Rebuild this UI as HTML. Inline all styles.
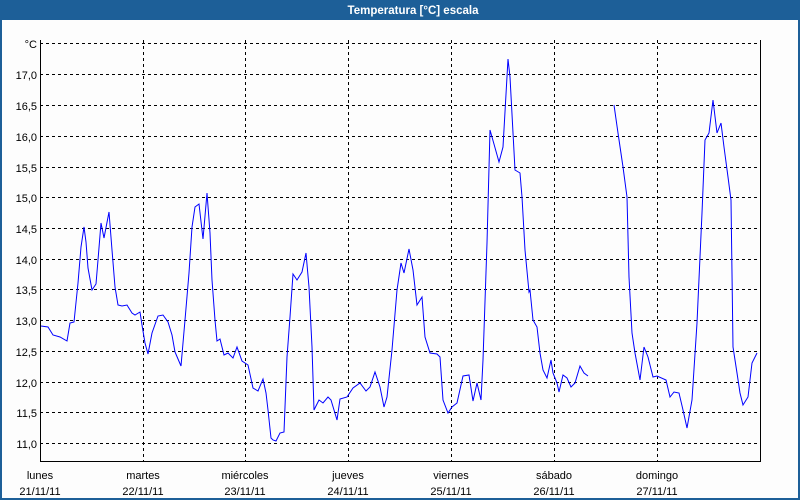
<!DOCTYPE html>
<html><head><meta charset="utf-8"><style>
body{margin:0;background:#fff}
svg{display:block}
text{font-family:"Liberation Sans",sans-serif;font-size:11px;fill:#000}
</style></head><body>
<svg width="800" height="500" xmlns="http://www.w3.org/2000/svg">
<rect x="0" y="0" width="800" height="500" fill="#1d5f98"/>
<rect x="2" y="20" width="796" height="478" fill="#fdfdfd"/>
<text x="413" y="14" text-anchor="middle" style="font-weight:bold;fill:#fff;font-size:11.5px">Temperatura [°C] escala</text>
<g stroke="#000" stroke-width="1" stroke-dasharray="3,3" fill="none">
<path d="M40 43.5H760M40 74.5H760M40 105.5H760M40 136.5H760M40 167.5H760M40 197.5H760M40 228.5H760M40 259.5H760M40 289.5H760M40 320.5H760M40 351.5H760M40 382.5H760M40 412.5H760M40 443.5H760"/>
<path d="M143.5 40V461M245.5 40V461M348.5 40V461M451.5 40V461M554.5 40V461M657.5 40V461"/>
</g>
<path d="M40.5 40V461.5H760.5V40" stroke="#000" fill="none"/>
<g text-anchor="end">
<text x="37" y="48">°C</text>
<text x="37" y="79">17,0</text><text x="37" y="110">16,5</text><text x="37" y="141">16,0</text>
<text x="37" y="172">15,5</text><text x="37" y="202">15,0</text><text x="37" y="233">14,5</text>
<text x="37" y="264">14,0</text><text x="37" y="294">13,5</text><text x="37" y="325">13,0</text>
<text x="37" y="356">12,5</text><text x="37" y="387">12,0</text><text x="37" y="417">11,5</text>
<text x="37" y="448">11,0</text>
</g>
<g text-anchor="middle">
<text x="40" y="479">lunes</text><text x="40" y="495">21/11/11</text>
<text x="143" y="479">martes</text><text x="143" y="495">22/11/11</text>
<text x="245" y="479">miércoles</text><text x="245" y="495">23/11/11</text>
<text x="348" y="479">jueves</text><text x="348" y="495">24/11/11</text>
<text x="451" y="479">viernes</text><text x="451" y="495">25/11/11</text>
<text x="554" y="479">sábado</text><text x="554" y="495">26/11/11</text>
<text x="657" y="479">domingo</text><text x="657" y="495">27/11/11</text>
</g>
<g stroke="#0000ff" stroke-width="1" fill="none">
<polyline points="41,326 48,327 53,335 60,337 67,341 70,323 74,322 78,283 81,247 84,227 86,242 88,268 92,290 96,284 98,260 101,223 104,238 109,212 112,250 115,287 118,305 122,306 127,305 132,313 135,315 140,312 142,325 145,343 148,354 152,333 158,316 163,315 168,322 172,335 175,352 181,366 185,320 189,273 192,227 195,207 199,204 203,239 207,193 210,233 212,280 215,320 217,341 220,339 224,355 228,353 233,358 237,347 242,361 248,365 253,388 258,391 263,379 266,393 268,410 271,438 273,440 276,441 280,433 284,432 287,357 290,317 293,274 297,280 302,272 306,253 309,287 312,347 314,410 319,400 323,403 328,397 331,400 337,420 340,399 347,397 353,388 360,383 366,391 370,387 375,372 380,387 384,407 387,397 392,350 397,290 401,263 404,273 409,249 413,270 417,305 422,297 425,337 430,353 437,354 440,357 443,400 448,413 452,407 457,403 463,376 469,375 473,401 477,383 481,400 483,360 487,243 490,130 492,137 499,162 503,147 508,59 510,77 515,170 520,173 522,197 525,250 529,292 530,290 533,320 537,327 540,353 543,370 547,378 551,360 553,373 557,383 559,392 563,375 567,378 571,387 575,383 580,366 584,373 588,376"/>
<polyline points="614,105 618,133 623,167 627,197 629,277 632,333 635,353 640,380 644,347 648,357 653,377 657,376 666,380 670,397 674,392 679,393 683,410 687,428 692,400 697,323 702,213 705,140 709,133 713,100 717,133 721,123 724,147 728,177 731,200 733,347 737,373 740,393 743,405 748,397 752,363 757,353"/>
</g>
</svg>
</body></html>
